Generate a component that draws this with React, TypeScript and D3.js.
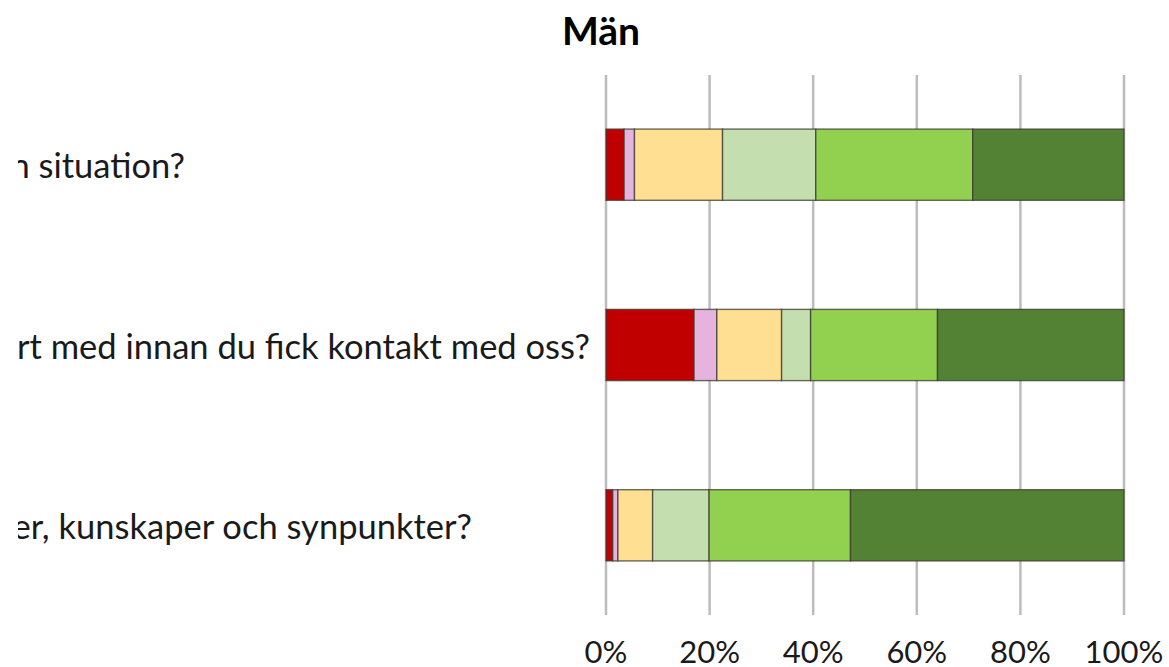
import React from "react";
import * as d3 from "d3";

// Survey questions (rows, top to bottom)
const questions = [
  "Hur väl har vi lyssnat på och förstått din situation?",
  "Hur nöjd är du jämfört med innan du fick kontakt med oss?",
  "Hur väl har vi tagit tillvara dina erfarenheter, kunskaper och synpunkter?",
];
// Right edge of each wrapped label line
const labelEnds = [185, 590, 472];

// Answer categories, from most negative to most positive
const categories = ["1", "2", "3", "4", "5", "6"];
const categoryColors = ["#C00000", "#E6B3DE", "#FFDF91", "#C5DEB0", "#92D050", "#548235"];

// Share of answers per category (%) for each question
const shareQ1 = [3.5, 2.0, 17.0, 18.0, 30.3, 29.2];
const shareQ2 = [17.0, 4.4, 12.5, 5.6, 24.5, 36.0];
const shareQ3 = [1.3, 1.0, 6.7, 10.9, 27.3, 52.8];
const shares = [shareQ1, shareQ2, shareQ3];

const tickValues = [0, 20, 40, 60, 80, 100];
const title = "Män";

const W = 1169;
const H = 667;
const margin = { top: 75, right: 45, bottom: 52, left: 606 };
const fontFamily = "Lato, 'Open Sans', sans-serif";

export default function App() {
  const x = d3
    .scaleLinear()
    .domain([0, 100])
    .range([margin.left, W - margin.right]);
  const y = d3
    .scaleBand<number>()
    .domain(d3.range(questions.length))
    .range([margin.top, H - margin.bottom])
    .paddingInner(0.605)
    .paddingOuter(0.3);

  const stacked = shares.map((row) => {
    let acc = 0;
    return row.map((v, i) => {
      const seg = { i, x0: acc, x1: acc + v };
      acc += v;
      return seg;
    });
  });

  const plotBottom = H - margin.bottom;

  return (
    <svg
      width={W}
      height={H}
      style={{ position: "absolute", left: 0, top: 0, background: "#fff" }}
    >
      <defs>
        <clipPath id="label-area">
          <rect x={18} y={0} width={W - 18} height={H} />
        </clipPath>
      </defs>

      {/* vertical gridlines */}
      {tickValues.map((t) => (
        <line
          key={"g" + t}
          x1={x(t)}
          x2={x(t)}
          y1={margin.top}
          y2={plotBottom}
          stroke="#BCBCBC"
          strokeWidth={2.5}
        />
      ))}

      {/* stacked bars */}
      {stacked.map((row, r) => (
        <g key={"r" + r}>
          {row.map((s) => (
            <rect
              key={categories[s.i]}
              x={x(s.x0)}
              y={y(r)!}
              width={x(s.x1) - x(s.x0)}
              height={y.bandwidth()}
              fill={categoryColors[s.i]}
              stroke="#3a3a2e"
              strokeOpacity={0.75}
              strokeWidth={1.4}
            />
          ))}
        </g>
      ))}

      {/* question labels */}
      <g clipPath="url(#label-area)">
        {questions.map((q, r) => (
          <text
            key={"q" + r}
            x={labelEnds[r]}
            y={y(r)! + y.bandwidth() / 2}
            textAnchor="end"
            dominantBaseline="central"
            fontFamily={fontFamily}
            fontSize={34.5}
            fill="#1a1a1a"
          >
            {q}
          </text>
        ))}
      </g>

      {/* x-axis tick labels */}
      {tickValues.map((t) => (
        <text
          key={"t" + t}
          x={x(t)}
          y={663}
          textAnchor="middle"
          fontFamily={fontFamily}
          fontSize={31}
          fill="#1a1a1a"
        >
          {t + "%"}
        </text>
      ))}

      <text
        x={601}
        y={45}
        textAnchor="middle"
        fontFamily={fontFamily}
        fontWeight="bold"
        fontSize={39}
        fill="#000"
      >
        {title}
      </text>
    </svg>
  );
}
